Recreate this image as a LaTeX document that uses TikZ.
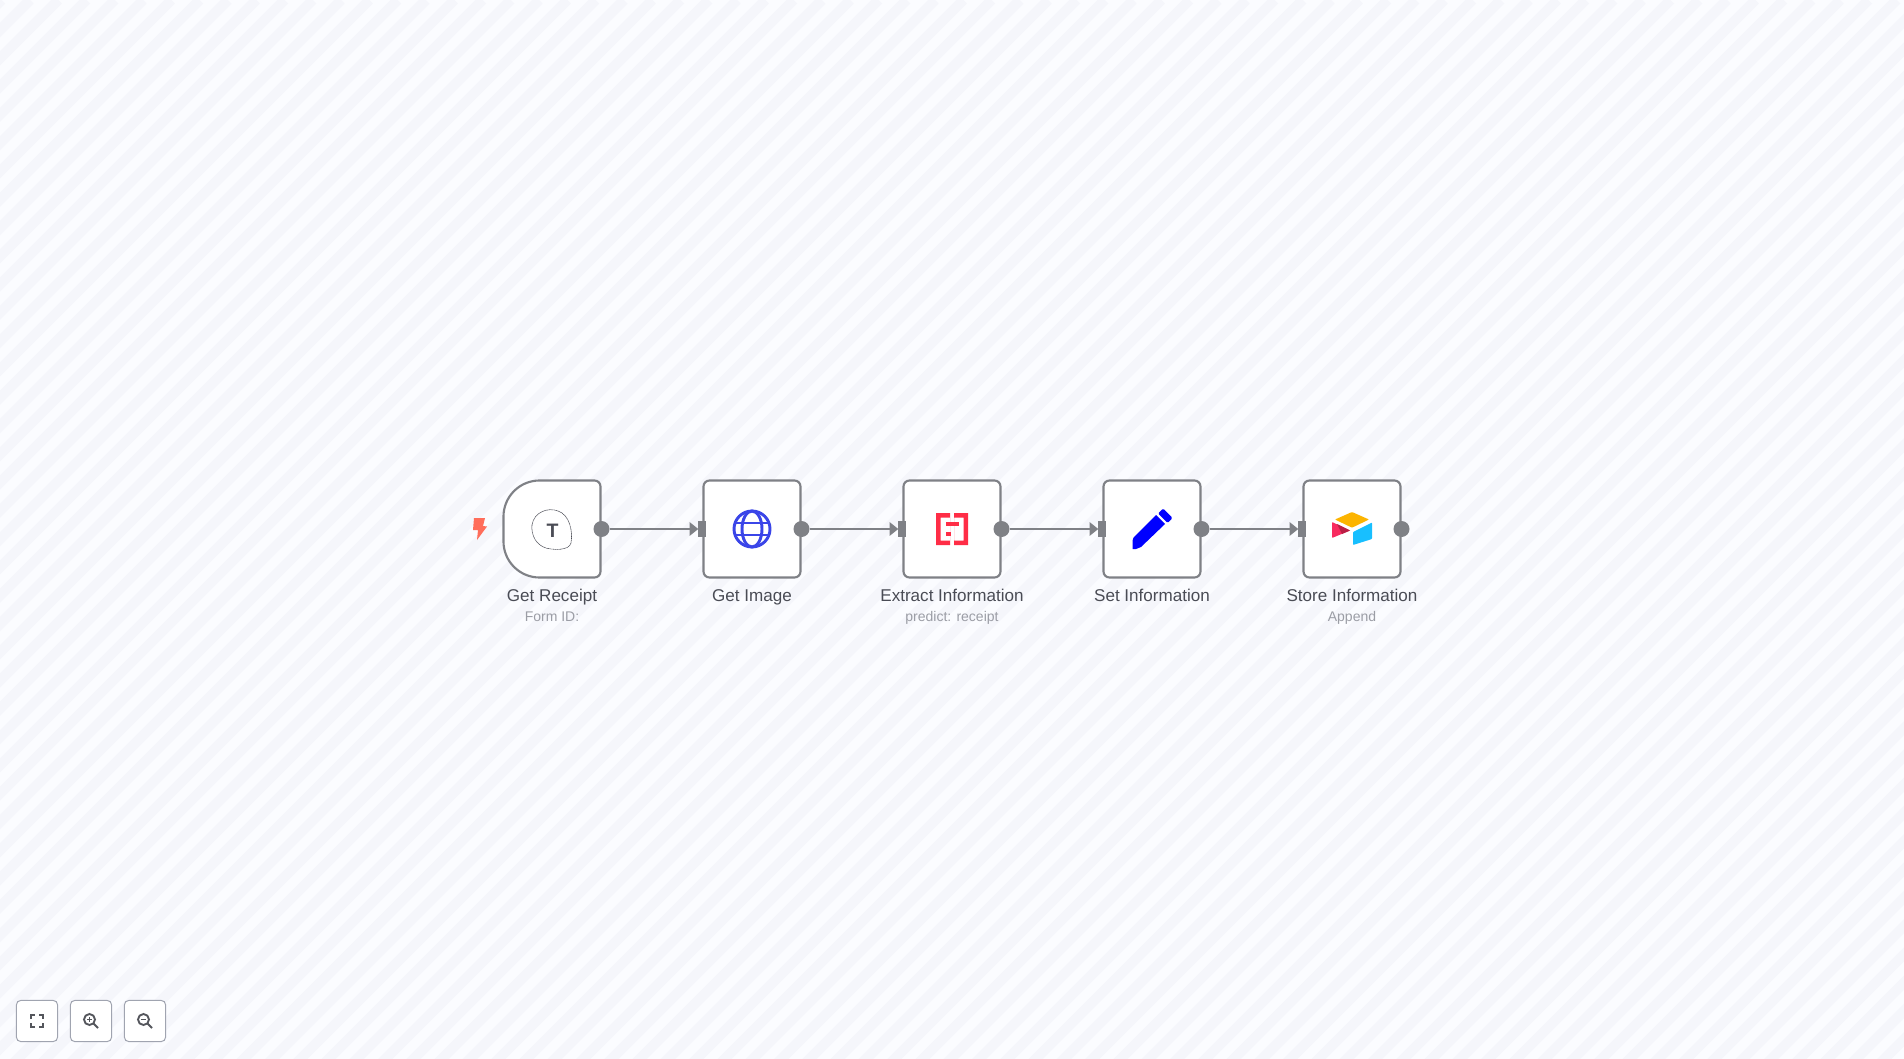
\documentclass[tikz,border=0pt]{standalone}
\usepackage{fontspec}
\setmainfont{Liberation Sans}
\usetikzlibrary{
  arrows.meta,
  positioning,
  calc
}
\definecolor{stripeLight}{HTML}{FBFCFF}
\definecolor{stripeDark}{HTML}{F5F6FB}
\definecolor{wireGray}{HTML}{7F8186}
\definecolor{titleGray}{HTML}{4A4C55}
\definecolor{subGray}{HTML}{9B9DA5}
\definecolor{btnEdge}{HTML}{A0A4B0}
\definecolor{iconDark}{HTML}{54565C}
\definecolor{flashRed}{HTML}{FF6D5A}
\definecolor{globeBlue}{HTML}{3A45E8}
\definecolor{extractRed}{HTML}{FF2D46}
\definecolor{penBlue}{HTML}{0000FF}
\definecolor{airYellow}{HTML}{FCB400}
\definecolor{airBlue}{HTML}{18BFFF}
\definecolor{airPink}{HTML}{F82B60}
\definecolor{airDark}{HTML}{BA1E45}

\begin{document}
\begin{tikzpicture}[
  x=0.75pt,
  y=-0.75pt,
  node distance=77.25pt,
  stepbox/.style={
    draw=wireGray,
    line width=1.6pt,
    rounded corners=4.5pt,
    fill=white,
    minimum size=72.75pt,
    inner sep=0pt,
    outer sep=0pt
  },
  triggerbox/.style={
    minimum size=72.75pt,
    inner sep=0pt,
    outer sep=0pt
  },
  outdot/.style={
    circle,
    fill=wireGray,
    minimum size=12pt,
    inner sep=0pt,
    outer sep=0pt,
    xshift=0.75pt
  },
  inbar/.style={
    fill=wireGray,
    minimum width=5.6pt,
    minimum height=12pt,
    inner sep=0pt,
    outer sep=0pt,
    xshift=-1.1pt
  },
  flow/.style={
    -{Triangle[length=6.5pt,width=10pt]},
    line width=1.5pt,
    wireGray
  },
  title/.style={
    font=\fontsize{12.8pt}{14pt}\selectfont,
    text=titleGray,
    text height=9.5pt,
    text depth=2.8pt,
    inner sep=0pt
  },
  subtitle/.style={
    font=\fontsize{10.5pt}{12pt}\selectfont,
    text=subGray,
    text height=8pt,
    text depth=2.5pt,
    inner sep=0pt
  },
  zoombtn/.style={
    draw=btnEdge,
    line width=0.75pt,
    rounded corners=3.5pt,
    fill=white,
    minimum size=31pt,
    inner sep=0pt,
    outer sep=0pt
  },
  btnicon/.style={
    draw=iconDark,
    line width=1.4pt
  }
]

% --- striped canvas ---
\useasboundingbox (0,0) rectangle (1904,1059);
\fill[stripeLight] (0,0) rectangle (1904,1059);
\begin{scope}
  \clip (0,0) rectangle (1904,1059);
  \foreach \k in {-1,...,105}{
    \draw[stripeDark,line width=7.5pt]
      ({30+28.284*\k},0) -- ({30+28.284*\k-1100},1100);
  }
\end{scope}

% --- steps ---
\node[triggerbox] (receipt) at (552,529) {};
\node[stepbox,right=of receipt] (image) {};
\node[stepbox,right=of image] (extract) {};
\node[stepbox,right=of extract] (setinfo) {};
\node[stepbox,right=of setinfo] (store) {};

\draw[draw=wireGray,line width=1.6pt,fill=white]
  (receipt.east) [rounded corners=4.5pt] -- (receipt.south east)
  [rounded corners=27pt] -- (receipt.south west) -- (receipt.north west)
  [rounded corners=4.5pt] -- (receipt.north east) -- cycle;

% --- ports ---
\node[outdot] (receiptOut) at (receipt.east) {};
\node[outdot] (imageOut) at (image.east) {};
\node[outdot] (extractOut) at (extract.east) {};
\node[outdot] (setinfoOut) at (setinfo.east) {};
\node[outdot] (storeOut) at (store.east) {};
\node[inbar] (imageIn) at (image.west) {};
\node[inbar] (extractIn) at (extract.west) {};
\node[inbar] (setinfoIn) at (setinfo.west) {};
\node[inbar] (storeIn) at (store.west) {};

% --- wires ---
\draw[flow] (receiptOut) -- (imageIn);
\draw[flow] (imageOut) -- (extractIn);
\draw[flow] (extractOut) -- (setinfoIn);
\draw[flow] (setinfoOut) -- (storeIn);

% --- labels ---
\node[title,below=8pt of receipt] (receiptTitle) {Get Receipt};
\node[title,below=8pt of image] (imageTitle) {Get Image};
\node[title,below=8pt of extract] (extractTitle) {Extract Information};
\node[title,below=8pt of setinfo] (setinfoTitle) {Set Information};
\node[title,below=8pt of store] (storeTitle) {Store Information};
\node[subtitle,below=4pt of receiptTitle] (receiptSub) {Form ID:};
\node[subtitle,below=4pt of extractTitle] (extractSub) {predict: receipt};
\node[subtitle,below=4pt of storeTitle] (storeSub) {Append};

% trigger flash
\fill[flashRed] (474,518) -- (485,518) -- (483,526) -- (487,526.5) -- (477,540) -- (478,530) -- (473,530) -- cycle;

% form icon
\draw[titleGray,line width=0.4pt,dash pattern=on 1pt off 0.3pt]
  (532,525) .. controls (534,512) and (548,507) .. (558,511)
  .. controls (570,515) and (573,532) .. (571,543)
  .. controls (569,551) and (553,550) .. (546,548)
  .. controls (536,545) and (531,535) .. (532,525) -- cycle;
\node[font=\fontsize{14.6pt}{15pt}\selectfont\bfseries,text=titleGray,inner sep=0pt] (formT) at (552.6,530.5) {T};

% globe icon
\begin{scope}[globeBlue,line width=2.2pt]
  \draw (752,529) circle (18);
  \draw (752,529) ellipse (10 and 18);
  \draw (735,523) -- (769,523);
  \draw (735,535) -- (769,535);
\end{scope}

% extract icon
\fill[extractRed,even odd rule]
  (936,513) rectangle (950,545)
  (940.5,517.5) rectangle (950,540.5);
\fill[extractRed,even odd rule]
  (954,513) rectangle (968,545)
  (954,517.5) rectangle (963.5,540.5);
\fill[extractRed] (946,522) rectangle (959,526);
\fill[extractRed] (946,532) rectangle (951,536);

% pen icon
\fill[penBlue] (1133,538) -- (1156,515) -- (1165,524) -- (1141,547) -- (1136,549)
  -- (1132.5,549) [rounded corners=1pt] -- (1132.5,542) -- cycle;
\fill[penBlue,rounded corners=1pt] (1158,513.5) -- (1163,508.5) -- (1172.5,518) -- (1167.5,523) -- cycle;

% airtable icon
\fill[airYellow,rounded corners=0.6pt] (1352,512) -- (1369,519.5) -- (1352,527.7) -- (1335,519.5) -- cycle;
\fill[airBlue,rounded corners=0.6pt] (1353,532) -- (1372,522.5) -- (1372,539) -- (1353,545) -- cycle;
\fill[airPink,rounded corners=0.6pt] (1332,522) -- (1350,530.5) -- (1332,538) -- cycle;
\fill[airDark] (1337,524) -- (1350,530.5) -- (1342,534) -- cycle;

% --- zoom buttons ---
\node[zoombtn] (fitBtn) at (37,1021) {};
\node[zoombtn,right=9.5pt of fitBtn] (inBtn) {};
\node[zoombtn,right=9.5pt of inBtn] (outBtn) {};

\draw[btnicon] (31,1019) -- (31,1015) -- (35,1015);
\draw[btnicon] (39,1015) -- (43,1015) -- (43,1019);
\draw[btnicon] (43,1023) -- (43,1027) -- (39,1027);
\draw[btnicon] (35,1027) -- (31,1027) -- (31,1023);
\draw[btnicon] (89.5,1019.5) circle (5.5);
\draw[btnicon] (93.5,1023.5) -- (98,1028);
\draw[btnicon,line width=1pt] (87,1019.5) -- (92,1019.5) (89.5,1017) -- (89.5,1022);
\draw[btnicon] (143.5,1019.5) circle (5.5);
\draw[btnicon] (147.5,1023.5) -- (152,1028);
\draw[btnicon,line width=1pt] (141,1019.5) -- (146,1019.5);

\end{tikzpicture}
\end{document}
